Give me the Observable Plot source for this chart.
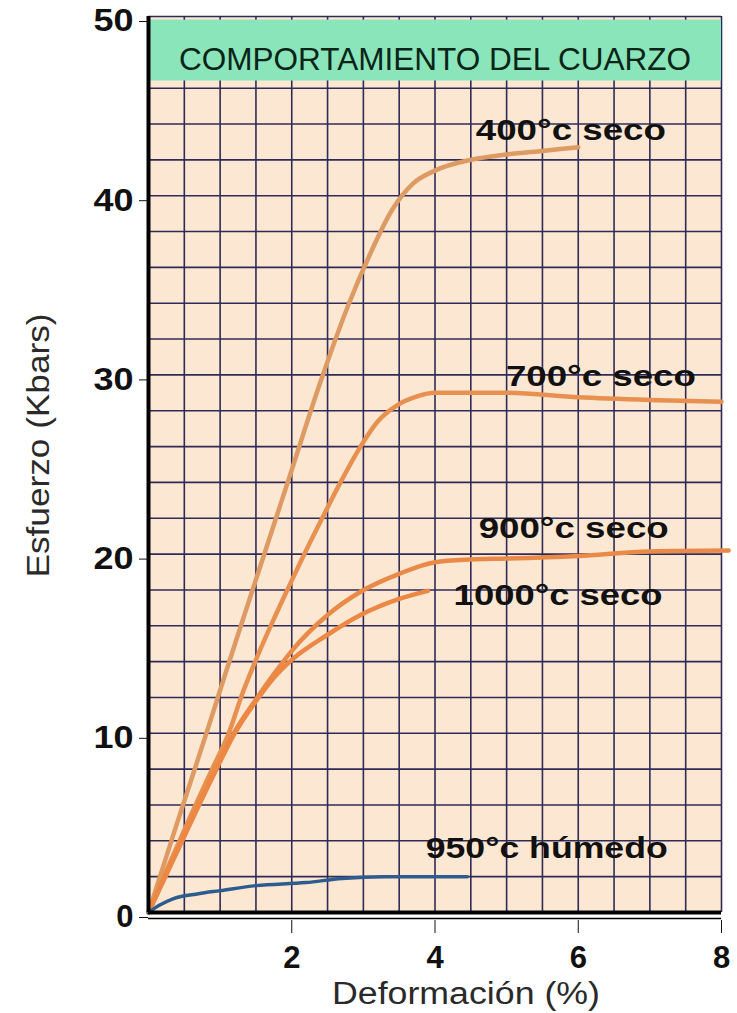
<!DOCTYPE html>
<html>
<head>
<meta charset="utf-8">
<script src="https://cdn.jsdelivr.net/npm/d3@7"></script>
<script src="https://cdn.jsdelivr.net/npm/@observablehq/plot@0.6"></script>
<style>
  html, body { margin: 0; padding: 0; background: #fff; overflow: hidden; }
  svg { display: block; }
</style>
</head>
<body>
<div id="chart"></div>
<script>
// ---- Text ----
const title = "COMPORTAMIENTO DEL CUARZO";
const xLabel = "Deformación (%)";
const yLabel = "Esfuerzo (Kbars)";

// ---- Ticks / grid ----
const xTicks = [2, 4, 6, 8];
const yTicks = [0, 10, 20, 30, 40, 50];
const xGrid = d3.range(0, 8.001, 0.5);
const yGrid = d3.range(0, 50.001, 2);

// ---- Title banner band (Kbar units) ----
const bannerBand = [{ from: 46.4, to: 49.8 }];

// ---- Series: [deformación %, esfuerzo Kbar] ----
const s400 = [[0,0],[0.4,5],[0.8,9.9],[1.2,14.9],[1.6,19.8],[2.0,24.7],[2.4,29.6],[2.8,34],[3.1,36.8],[3.4,39.2],[3.7,40.7],[4.0,41.4],[4.5,42],[5.0,42.3],[5.5,42.5],[6.0,42.7]];
const s700 = [[0,0],[0.3,2.8],[0.6,5.5],[0.9,8.1],[1.12,10],[1.3,12.1],[1.5,14.1],[1.73,16.2],[1.95,18.1],[2.2,20.2],[2.45,22.2],[2.68,24],[2.96,26],[3.2,27.4],[3.47,28.3],[3.75,28.8],[4.0,29],[5.0,29],[6.0,28.75],[7.0,28.6],[8.0,28.5]];
const s900 = [[0,0],[0.3,2.6],[0.6,5.2],[0.9,7.7],[1.19,10],[1.52,12],[1.75,13.3],[2.0,14.6],[2.5,16.6],[2.96,17.9],[3.5,18.9],[4.0,19.55],[4.5,19.7],[5.0,19.75],[6.0,19.9],[7.0,20.15],[8.1,20.2]];
const s1000 = [[0,0],[0.3,2.55],[0.6,5.1],[0.9,7.6],[1.19,9.9],[1.52,11.9],[1.75,13.1],[2.0,14.1],[2.5,15.5],[2.96,16.6],[3.5,17.5],[3.9,17.95]];
const s950h = [[0,0],[0.15,0.4],[0.35,0.78],[0.7,1.05],[1.0,1.22],[1.5,1.5],[2.2,1.67],[2.7,1.9],[3.3,2.0],[4.45,2.0]];

// ---- Curve labels ----
const seriesNames = ["400°c seco", "700°c seco", "900°c seco", "1000°c seco", "950°c húmedo"];
const labelX = [4.57, 4.99, 4.61, 4.26, 3.87];
const labelY = [43.64, 29.91, 21.46, 17.69, 3.6];

const curveLabels = seriesNames.map((name, i) => ({ name, x: labelX[i], y: labelY[i] }));
const font = "'Liberation Sans', Arial, Helvetica, sans-serif";
const gridColor = "#2f2b57";
const lineOpts = (stroke, w) => ({ x: d => d[0], y: d => d[1], stroke, strokeWidth: w, curve: "monotone-x", strokeLinecap: "round" });

const chart = Plot.plot({
  width: 737,
  height: 1013,
  marginLeft: 148,
  marginRight: 16,
  marginTop: 16,
  marginBottom: 101,
  x: { domain: [0, 8] },
  y: { domain: [0, 50] },
  style: { fontFamily: font, color: "#111", background: "#fff" },
  marks: [
    Plot.frame({ fill: "#fce7d2", stroke: null }),
    Plot.ruleX(xGrid, { stroke: gridColor, strokeWidth: 1.6 }),
    Plot.ruleY(yGrid, { stroke: gridColor, strokeWidth: 1.6 }),
    Plot.rect(bannerBand, { y1: "from", y2: "to", fill: "#8ae5bb" }),
    Plot.text([title], { text: d => d, frameAnchor: "top", dy: 31, fontSize: 31, fill: "#0b2418" }),
    Plot.line(s400, lineOpts("#dd9a62", 4.5)),
    Plot.line(s700, lineOpts("#e8904f", 4.5)),
    Plot.line(s900, lineOpts("#ea8a48", 4.5)),
    Plot.line(s1000, lineOpts("#ec8744", 4.5)),
    Plot.line(s950h, lineOpts("#2e5c8f", 3.5)),
    Plot.text(curveLabels, { x: "x", y: "y", text: "name", textAnchor: "start", fontSize: 30, fontWeight: "bold", fill: "#111" }),
    Plot.ruleX([0], { stroke: "#000", strokeWidth: 4 }),
    Plot.ruleY([0], { stroke: "#000", strokeWidth: 4 }),
    Plot.ruleY([0], { stroke: "#000", strokeWidth: 1.5, dy: 6 }),
    Plot.axisY(yTicks, { tickSize: 9, tickPadding: 6, dy: 5, fontSize: 31, fontWeight: "bold", label: null }),
    Plot.axisX(xTicks, { tickSize: 13, tickPadding: 12, dy: 8, fontSize: 31, fontWeight: "bold", label: null }),
    Plot.text([yLabel], { text: d => d, frameAnchor: "left", textAnchor: "middle", rotate: -90, dx: -109, dy: -19, fontSize: 31, fill: "#2a2a2a" }),
    Plot.text([xLabel], { text: d => d, frameAnchor: "bottom", textAnchor: "middle", dx: 31, dy: 91, fontSize: 31, fill: "#2a2a2a" })
  ]
});

document.getElementById("chart").appendChild(chart);

// Stretch texts horizontally to match the reference's wide lettering
const textWidths = {
  "400°c seco": 190, "700°c seco": 190, "900°c seco": 190, "1000°c seco": 209, "950°c húmedo": 242,
  [title]: 512, [yLabel]: 264, [xLabel]: 268,
  "10": 40, "20": 40, "30": 40, "40": 40, "50": 40
};
chart.querySelectorAll("text").forEach(t => {
  const w = textWidths[t.textContent.trim()];
  if (w) {
    t.setAttribute("textLength", w);
    t.setAttribute("lengthAdjust", "spacingAndGlyphs");
  }
});
</script>
</body>
</html>
